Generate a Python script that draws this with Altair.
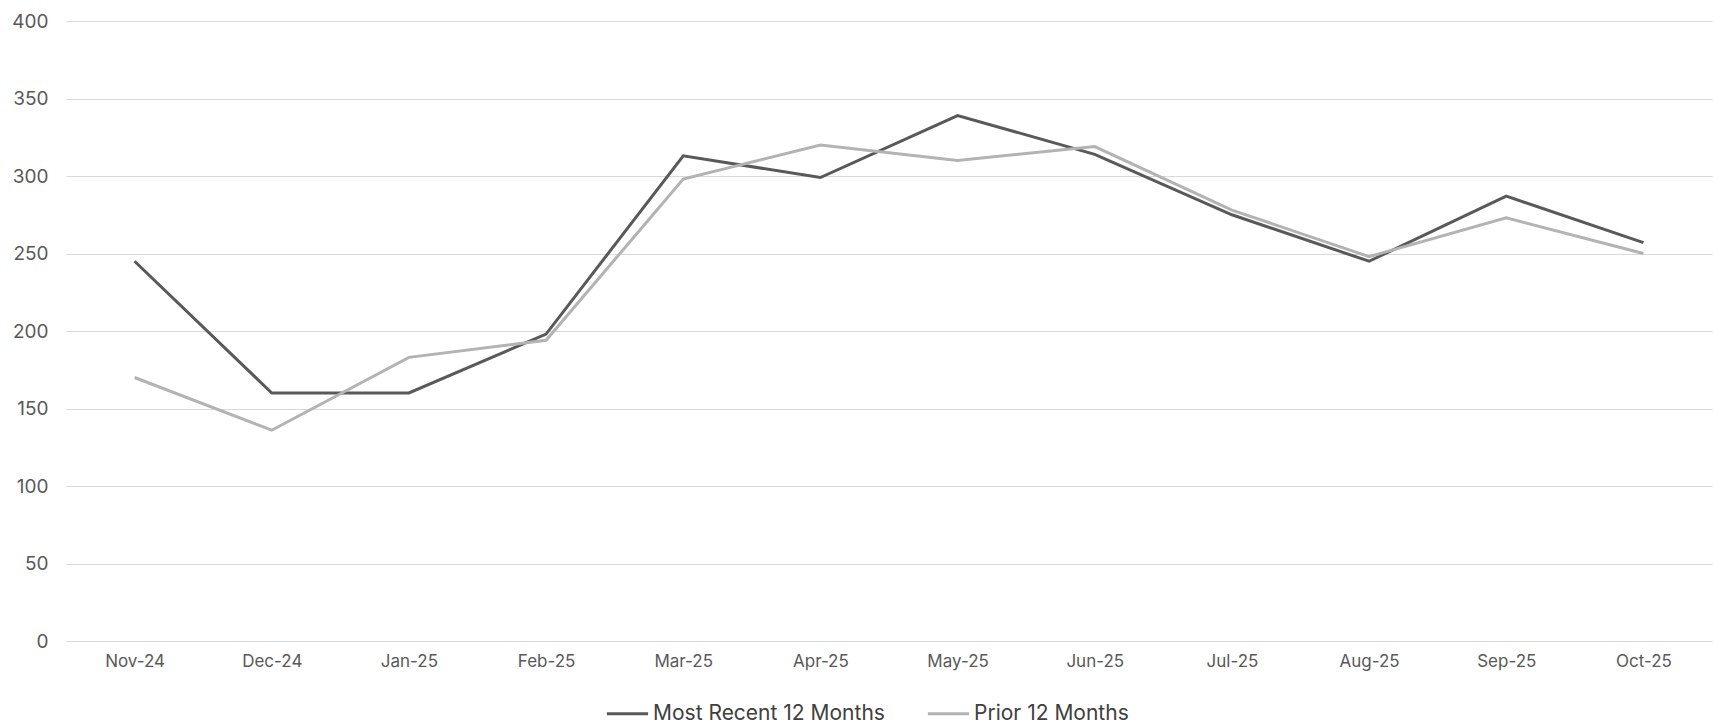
import altair as alt
import pandas as pd

months = ["Nov-24", "Dec-24", "Jan-25", "Feb-25", "Mar-25", "Apr-25",
          "May-25", "Jun-25", "Jul-25", "Aug-25", "Sep-25", "Oct-25"]
recent = [245, 160, 160, 198, 313, 299, 339, 314, 275, 245, 287, 257]
prior = [170, 136, 183, 194, 298, 320, 310, 319, 278, 248, 273, 250]
series = ["Most Recent 12 Months", "Prior 12 Months"]

rows = []
for i, m in enumerate(months):
    rows.append({"month": m, "series": series[0], "value": recent[i], "order": 1})
    rows.append({"month": m, "series": series[1], "value": prior[i], "order": 0})
df = pd.DataFrame(rows)

FONT = "Inter"
TXT = "#595959"

chart = alt.Chart(df).mark_line(strokeWidth=3).encode(
    x=alt.X("month:N", sort=months, title=None,
            scale=alt.Scale(paddingOuter=0.5),
            axis=alt.Axis(labelAngle=0, ticks=False, tickSize=0, domain=False,
                          grid=False, labelPadding=12, labelFontSize=17,
                          labelColor=TXT, labelFont=FONT)),
    y=alt.Y("value:Q", title=None,
            scale=alt.Scale(domain=[0, 400], nice=False),
            axis=alt.Axis(values=list(range(0, 401, 50)), ticks=False, tickSize=0,
                          domain=False, gridColor="#d9d9d9", gridWidth=1.2,
                          labelPadding=18, labelFontSize=19, labelColor=TXT,
                          labelFont=FONT)),
    color=alt.Color("series:N",
                    scale=alt.Scale(domain=series, range=["#595959", "#b3b3b3"]),
                    legend=alt.Legend(title=None, orient="none", direction="horizontal",
                                      legendX=539, legendY=670,
                                      symbolType="stroke", symbolSize=1700,
                                      symbolStrokeWidth=3, labelFontSize=21,
                                      labelFont=FONT, labelColor="#404040",
                                      labelOffset=3, columnPadding=36,
                                      labelLimit=400)),
    order=alt.Order("order:Q"),
).properties(
    width=1646, height=620,
    background="white",
    autosize=alt.AutoSizeParams(type="none"),
    padding={"left": 58, "top": 13, "right": 5, "bottom": 85},
).configure_view(stroke=None)

chart.save("out.html", embed_options={"renderer": "svg", "actions": False})
